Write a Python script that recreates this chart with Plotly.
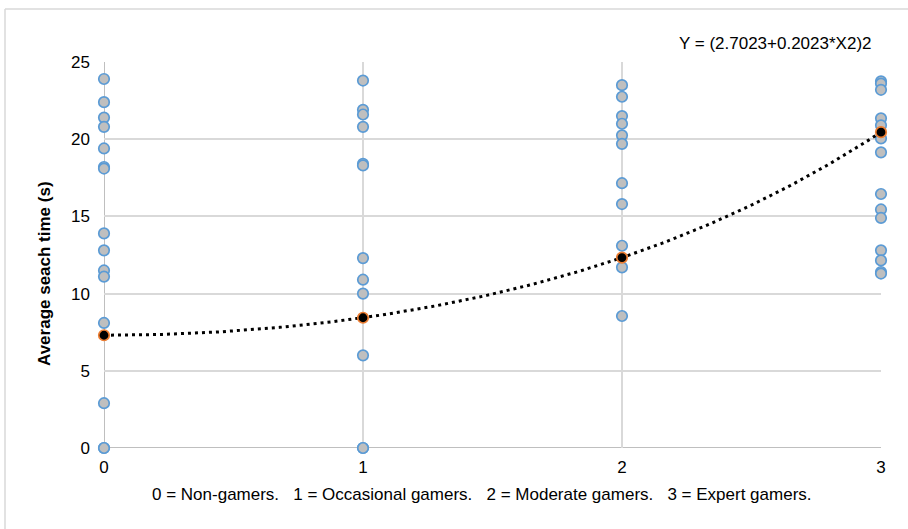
import numpy as np
import plotly.graph_objects as go

# Gamer category codes and their average search times (s)
categories = [0, 1, 2, 3]
non_gamers = [23.9, 22.4, 21.4, 20.8, 19.4, 18.2, 18.1, 13.9, 12.8, 11.5, 11.1, 8.1, 2.9, 0, 0]
occasional = [23.8, 21.9, 21.6, 20.8, 18.4, 18.3, 12.3, 10.9, 10.0, 6.0, 0, 0]
moderate = [23.5, 22.75, 21.5, 21.0, 20.25, 19.7, 17.15, 15.8, 13.1, 11.7, 8.55]
expert = [23.75, 23.6, 23.2, 21.35, 20.9, 20.05, 19.15, 16.45, 15.45, 14.9, 12.8, 12.15, 11.4, 11.3]

# Fitted model: Y = (a + b*X^2)^2
fit_a = 2.7023
fit_b = 0.2023
equation_text = "Y = (2.7023+0.2023*X2)2"

y_ticks = [0, 5, 10, 15, 20, 25]
x_ticks = [0, 1, 2, 3]
x_title = "0 = Non-gamers.   1 = Occasional gamers.   2 = Moderate gamers.   3 = Expert gamers."
y_title = "Average seach time (s)"

groups = [non_gamers, occasional, moderate, expert]
obs_x = [c for c, g in zip(categories, groups) for _ in g]
obs_y = [v for g in groups for v in g]


def model(x):
    x = np.asarray(x, dtype=float)
    return (fit_a + fit_b * x ** 2) ** 2


curve_x = np.linspace(0, 3, 200)
curve_y = model(curve_x)
fitted_y = model(categories)

FONT = "Liberation Sans, Arial, sans-serif"
FS = 17

fig = go.Figure()

fig.add_trace(go.Scatter(
    x=obs_x, y=obs_y, mode="markers",
    marker=dict(size=10.5, color="#bfbfbf", line=dict(color="#5b9bd5", width=1.7)),
    cliponaxis=False, showlegend=False, hoverinfo="x+y",
))

fig.add_trace(go.Scatter(
    x=curve_x, y=curve_y, mode="lines",
    line=dict(color="black", width=3, dash="3px,4px"),
    cliponaxis=False, showlegend=False, hoverinfo="skip",
))

fig.add_trace(go.Scatter(
    x=categories, y=fitted_y, mode="markers",
    marker=dict(size=10.5, color="black", line=dict(color="#ed7d31", width=1.7)),
    cliponaxis=False, showlegend=False, hoverinfo="x+y",
))

W, H = 908, 529
L, R, T, B = 104, 27, 62, 81
pw, ph = W - L - R, H - T - B


def px_x(p):
    return (p - L) / pw


def px_y(p):
    return (H - B - p) / ph


fig.update_layout(
    width=W, height=H,
    margin=dict(l=L, r=R, t=T, b=B),
    paper_bgcolor="white", plot_bgcolor="white",
    font=dict(family=FONT, size=FS, color="black"),
    xaxis=dict(
        range=[0, 3], tickvals=x_ticks, ticktext=[str(v) for v in x_ticks],
        showgrid=True, gridcolor="#d9d9d9", gridwidth=1.5,
        zeroline=False, showline=False,
        ticks="", ticklabelstandoff=7,
        tickfont=dict(size=FS, family=FONT),
    ),
    yaxis=dict(
        range=[0, 25], tickvals=y_ticks, ticktext=[str(v) for v in y_ticks],
        showgrid=True, gridcolor="#d9d9d9", gridwidth=1.5,
        zeroline=False, showline=False,
        ticks="", ticklabelstandoff=13,
        tickfont=dict(size=FS, family=FONT),
    ),
    shapes=[
        # axis lines at x=0 and y=0
        dict(type="line", xref="x", yref="y", x0=0, x1=0, y0=0, y1=25,
             line=dict(color="#bfbfbf", width=2), layer="below"),
        dict(type="line", xref="x", yref="y", x0=0, x1=3, y0=0, y1=0,
             line=dict(color="#bfbfbf", width=2), layer="below"),
        # chart area frame
        dict(type="line", xref="paper", yref="paper",
             x0=px_x(5), x1=px_x(5), y0=px_y(9), y1=px_y(540),
             line=dict(color="#d9d9d9", width=1.5)),
        dict(type="line", xref="paper", yref="paper",
             x0=px_x(5), x1=px_x(920), y0=px_y(9), y1=px_y(9),
             line=dict(color="#d9d9d9", width=1.5)),
    ],
    annotations=[
        dict(text=equation_text, xref="paper", yref="paper",
             x=px_x(874), y=px_y(43), xanchor="right", yanchor="middle",
             showarrow=False, font=dict(size=FS, family=FONT)),
        dict(text=x_title, xref="paper", yref="paper",
             x=px_x(482), y=px_y(494), xanchor="center", yanchor="middle",
             showarrow=False, font=dict(size=FS, family=FONT)),
        dict(text="<b>" + y_title + "</b>", xref="paper", yref="paper",
             x=px_x(44), y=px_y(274), xanchor="center", yanchor="middle",
             textangle=-90, showarrow=False, font=dict(size=FS, family=FONT)),
    ],
)

fig.write_html("out.html")
